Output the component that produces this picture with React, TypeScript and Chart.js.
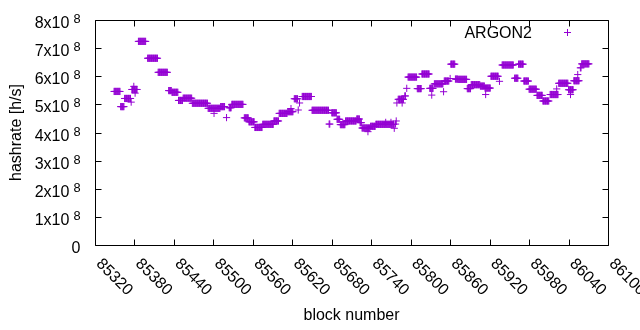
import React, { useEffect, useRef } from "react";
import { Chart, registerables } from "chart.js";

Chart.register(...registerables);

// Runs of blocks with the same estimated hashrate (first block, last block, hashrate in h/s)
const runStart = [
  85349, 85359, 85365, 85375, 85376, 85379, 85381, 85386, 85400, 85416,
  85432, 85437, 85447, 85454, 85468, 85492, 85501, 85511, 85520, 85524,
  85528, 85547, 85554, 85563, 85575, 85592, 85600, 85613, 85618, 85623,
  85629, 85631, 85635, 85650, 85676, 85680, 85688, 85693, 85701, 85718,
  85723, 85726, 85735, 85739, 85747, 85762, 85770, 85775, 85777, 85778,
  85779, 85781, 85787, 85791, 85794, 85796, 85810, 85817, 85829, 85832,
  85836, 85850, 85851, 85860, 85861, 85868, 85872, 85886, 85892, 85906,
  85913, 85914, 85922, 85935, 85939, 85958, 85964, 85972, 85980, 85992,
  86001, 86012, 86022, 86025, 86040, 86043, 86048, 86054, 86058, 86060,
];
const runEnd = [
  85358, 85364, 85374, 85375, 85384, 85379, 85381, 85397, 85415, 85430,
  85436, 85446, 85453, 85467, 85491, 85510, 85501, 85517, 85520, 85527,
  85545, 85553, 85562, 85574, 85591, 85599, 85612, 85621, 85618, 85628,
  85629, 85631, 85649, 85675, 85677, 85687, 85692, 85700, 85717, 85722,
  85725, 85738, 85735, 85746, 85774, 85762, 85770, 85775, 85777, 85778,
  85779, 85789, 85787, 85792, 85794, 85809, 85816, 85828, 85834, 85832,
  85849, 85850, 85858, 85860, 85867, 85871, 85885, 85891, 85905, 85912,
  85921, 85914, 85933, 85935, 85956, 85963, 85971, 85979, 85991, 86000,
  86010, 86024, 86022, 86039, 86047, 86043, 86056, 86054, 86059, 86071,
];
const runValue = [
  546e6, 492e6, 521e6, 508e6, 553e6, 564e6, 540e6, 724e6, 664e6, 614e6,
  549e6, 543e6, 514e6, 522e6, 504e6, 486e6, 468e6, 492e6, 453e6, 488e6,
  500e6, 452e6, 438e6, 418e6, 429e6, 441e6, 468e6, 474e6, 485e6, 520e6,
  480e6, 505e6, 528e6, 479e6, 430e6, 470e6, 447e6, 428e6, 441e6, 448e6,
  435e6, 416e6, 403e6, 422e6, 429e6, 436e6, 436e6, 415e6, 430e6, 441e6,
  505e6, 518e6, 505e6, 530e6, 557e6, 597e6, 556e6, 608e6, 557e6, 533e6,
  573e6, 545e6, 583e6, 592e6, 643e6, 590e6, 589e6, 556e6, 570e6, 565e6,
  558e6, 535e6, 600e6, 582e6, 640e6, 593e6, 643e6, 583e6, 554e6, 532e6,
  512e6, 535e6, 555e6, 575e6, 552e6, 535e6, 584e6, 606e6, 630e6, 644e6,
];

const seriesLabel = "ARGON2";
const xTicks = [85320, 85380, 85440, 85500, 85560, 85620, 85680, 85740, 85800, 85860, 85920, 85980, 86040, 86100];
const yTicks = [0, 1e8, 2e8, 3e8, 4e8, 5e8, 6e8, 7e8, 8e8];
const yTickMantissa = ["0", "1x10", "2x10", "3x10", "4x10", "5x10", "6x10", "7x10", "8x10"];
const yTickExponent = ["", "8", "8", "8", "8", "8", "8", "8", "8"];
const xTitle = "block number";
const yTitle = "hashrate [h/s]";

const COLOR = "#9400D3";
const FONT = '"Liberation Sans", Arial, sans-serif';

const framePlugin = {
  id: "gnuplotFrame",
  afterDraw(chart: any) {
    const { ctx, chartArea } = chart;
    const xs = chart.scales.x;
    const ys = chart.scales.y;
    const L = Math.round(chartArea.left) + 0.5;
    const R = Math.round(chartArea.right) + 0.5;
    const T = Math.round(chartArea.top) + 0.5;
    const B = Math.round(chartArea.bottom) + 0.5;
    ctx.save();
    ctx.strokeStyle = "#000";
    ctx.lineWidth = 1;
    ctx.beginPath();
    ctx.rect(L, T, R - L, B - T);
    const tl = 6;
    xTicks.forEach((v) => {
      const px = Math.round(xs.getPixelForValue(v)) + 0.5;
      ctx.moveTo(px, B);
      ctx.lineTo(px, B - tl);
      ctx.moveTo(px, T);
      ctx.lineTo(px, T + tl);
    });
    yTicks.forEach((v) => {
      const py = Math.round(ys.getPixelForValue(v)) + 0.5;
      ctx.moveTo(L, py);
      ctx.lineTo(L + tl, py);
      ctx.moveTo(R, py);
      ctx.lineTo(R - tl, py);
    });
    ctx.stroke();

    ctx.fillStyle = "#000";
    // y tick labels with superscript exponent
    const labelRight = L - 15;
    yTicks.forEach((v, i) => {
      const py = ys.getPixelForValue(v);
      const exp = yTickExponent[i];
      let right = labelRight;
      ctx.textAlign = "right";
      ctx.textBaseline = "alphabetic";
      if (exp) {
        ctx.font = `12.8px ${FONT}`;
        ctx.fillText(exp, right, py + 3);
        right -= ctx.measureText(exp).width + 4;
      }
      ctx.font = `16px ${FONT}`;
      ctx.fillText(yTickMantissa[i], right, py + 8);
    });

    // x tick labels rotated by -45 (gnuplot), hanging below the ticks
    ctx.font = `16px ${FONT}`;
    xTicks.forEach((v) => {
      const px = xs.getPixelForValue(v);
      ctx.save();
      ctx.translate(px + 3.5, B + 16);
      ctx.rotate(Math.PI / 4);
      ctx.textAlign = "left";
      ctx.textBaseline = "middle";
      ctx.fillText(String(v), 0, 0);
      ctx.restore();
    });

    // axis titles
    ctx.textAlign = "center";
    ctx.textBaseline = "middle";
    ctx.fillText(xTitle, (chartArea.left + chartArea.right) / 2, 316);
    ctx.save();
    ctx.translate(17, (chartArea.top + chartArea.bottom) / 2);
    ctx.rotate(-Math.PI / 2);
    ctx.fillText(yTitle, 0, 0);
    ctx.restore();

    // key
    ctx.textAlign = "right";
    ctx.textBaseline = "alphabetic";
    ctx.fillText(seriesLabel, 532, 37.5);
    ctx.strokeStyle = COLOR;
    ctx.beginPath();
    ctx.moveTo(564, 32.5);
    ctx.lineTo(571, 32.5);
    ctx.moveTo(567.5, 29);
    ctx.lineTo(567.5, 36);
    ctx.stroke();
    ctx.restore();
  },
};

export default function App() {
  const ref = useRef<HTMLCanvasElement | null>(null);
  useEffect(() => {
    document.body.style.margin = "0";
    const points: { x: number; y: number }[] = [];
    for (let i = 0; i < runStart.length; i++) {
      for (let b = runStart[i]; b <= runEnd[i]; b++) points.push({ x: b, y: runValue[i] });
    }
    const chart = new Chart(ref.current as HTMLCanvasElement, {
      type: "scatter",
      data: {
        datasets: [
          {
            label: seriesLabel,
            data: points,
            pointStyle: "cross",
            pointRadius: 3.6,
            pointBorderWidth: 1,
            borderColor: COLOR,
            backgroundColor: COLOR,
            showLine: false,
          } as any,
        ],
      },
      options: {
        animation: false,
        responsive: false,
        devicePixelRatio: 1,
        events: [],
        layout: { padding: { left: 95, right: 32, top: 20, bottom: 85 } },
        plugins: { legend: { display: false }, tooltip: { enabled: false } },
        scales: {
          x: { type: "linear", min: 85320, max: 86100, display: false },
          y: { type: "linear", min: 0, max: 8e8, display: false },
        },
      },
      plugins: [framePlugin],
    });
    return () => chart.destroy();
  }, []);
  return (
    <div style={{ width: 640, height: 330 }}>
      <canvas ref={ref} width={640} height={330} style={{ display: "block" }} />
    </div>
  );
}
